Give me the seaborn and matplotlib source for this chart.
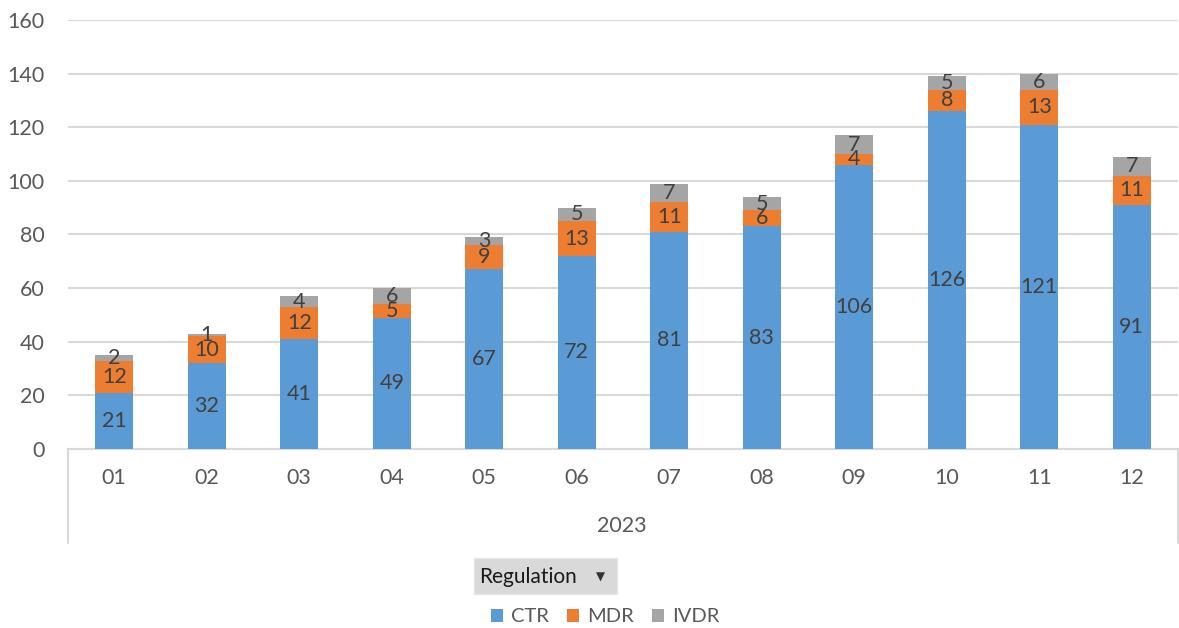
import numpy as np
import pandas as pd
import matplotlib
matplotlib.use("Agg")
import matplotlib.pyplot as plt
from matplotlib.patches import Rectangle
from matplotlib.lines import Line2D
import seaborn as sns

months = ["01", "02", "03", "04", "05", "06", "07", "08", "09", "10", "11", "12"]
year_label = "2023"
ctr = [21, 32, 41, 49, 67, 72, 81, 83, 106, 126, 121, 91]
mdr = [12, 10, 12, 5, 9, 13, 11, 6, 4, 8, 13, 11]
ivdr = [2, 1, 4, 6, 3, 5, 7, 5, 7, 5, 6, 7]
series_names = ["CTR", "MDR", "IVDR"]
series_colors = ["#5B9BD5", "#ED7D31", "#A5A5A5"]
y_ticks = [0, 20, 40, 60, 80, 100, 120, 140, 160]

sns.set_theme(style="white")
plt.rcParams["font.family"] = ["Lato", "DejaVu Sans"]

text_color = "#595959"
label_color = "#404040"
grid_color = "#D9D9D9"
fs = 15.5

df = pd.DataFrame({"month": months, "CTR": ctr, "MDR": mdr, "IVDR": ivdr})
df["c1"] = df["CTR"]
df["c2"] = df["CTR"] + df["MDR"]
df["c3"] = df["CTR"] + df["MDR"] + df["IVDR"]

fig = plt.figure(figsize=(11.79, 6.28), dpi=100)
ax = fig.add_axes([68 / 1179, 1 - 449 / 628, (1178 - 68) / 1179, (449 - 20) / 628])

# stacked bars: draw cumulative heights from the top series down
for col, color in zip(["c3", "c2", "c1"], series_colors[::-1]):
    sns.barplot(data=df, x="month", y=col, color=color, width=0.41,
                saturation=1, ax=ax, zorder=3, linewidth=0)

# segment value labels, centred in each segment
for i in range(len(months)):
    bottoms = [0, ctr[i], ctr[i] + mdr[i]]
    vals = [ctr[i], mdr[i], ivdr[i]]
    for b, v in zip(bottoms, vals):
        ax.text(i, b + v / 2, str(v), ha="center", va="center",
                fontsize=fs, color=label_color, zorder=5)

ax.set_ylim(0, 160)
ax.set_xlim(-0.5, len(months) - 0.5)
ax.set_yticks(y_ticks)
ax.yaxis.grid(True, color=grid_color, linewidth=1.5, zorder=0)
ax.set_axisbelow(True)
ax.set_xlabel("")
ax.set_ylabel("")
for s in ["top", "right", "left"]:
    ax.spines[s].set_visible(False)
ax.spines["bottom"].set_color(grid_color)
ax.spines["bottom"].set_linewidth(1.5)
ax.tick_params(axis="y", length=0, pad=17, labelsize=fs, labelcolor=text_color)
ax.tick_params(axis="x", length=0, pad=14, labelsize=fs, labelcolor=text_color)

# year grouping box under the month labels
for xpx in [68, 1178]:
    fig.add_artist(Line2D([xpx / 1179, xpx / 1179], [1 - 449 / 628, 1 - 543 / 628],
                          color=grid_color, linewidth=1.5))
fig.text(622 / 1179, 1 - 526 / 628, year_label, ha="center", va="center",
         fontsize=fs, color=text_color)

# field button
fig.add_artist(Rectangle((474 / 1179, 1 - 594 / 628), (617 - 474) / 1179, 36 / 628,
                         facecolor="#D9D9D9", edgecolor="#E6E6E6", linewidth=1,
                         transform=fig.transFigure))
fig.text(479 / 1179, 1 - 577 / 628, "Regulation", ha="left", va="center",
         fontsize=15, color="#1A1A1A")
fig.text(600 / 1179, 1 - 577 / 628, "▼", ha="center", va="center",
         fontsize=8.5, color="#333333", family=["DejaVu Sans"])

# legend
handles = [Rectangle((0, 0), 1, 1, facecolor=c, edgecolor="none") for c in series_colors]
fig.legend(handles, series_names, loc="center", bbox_to_anchor=(605 / 1179, 1 - 617 / 628),
           ncol=3, frameon=False, fontsize=14.5, labelcolor=text_color,
           handlelength=0.6, handleheight=0.6, handletextpad=0.4, columnspacing=0.9)

fig.savefig("out.png", dpi=100)
